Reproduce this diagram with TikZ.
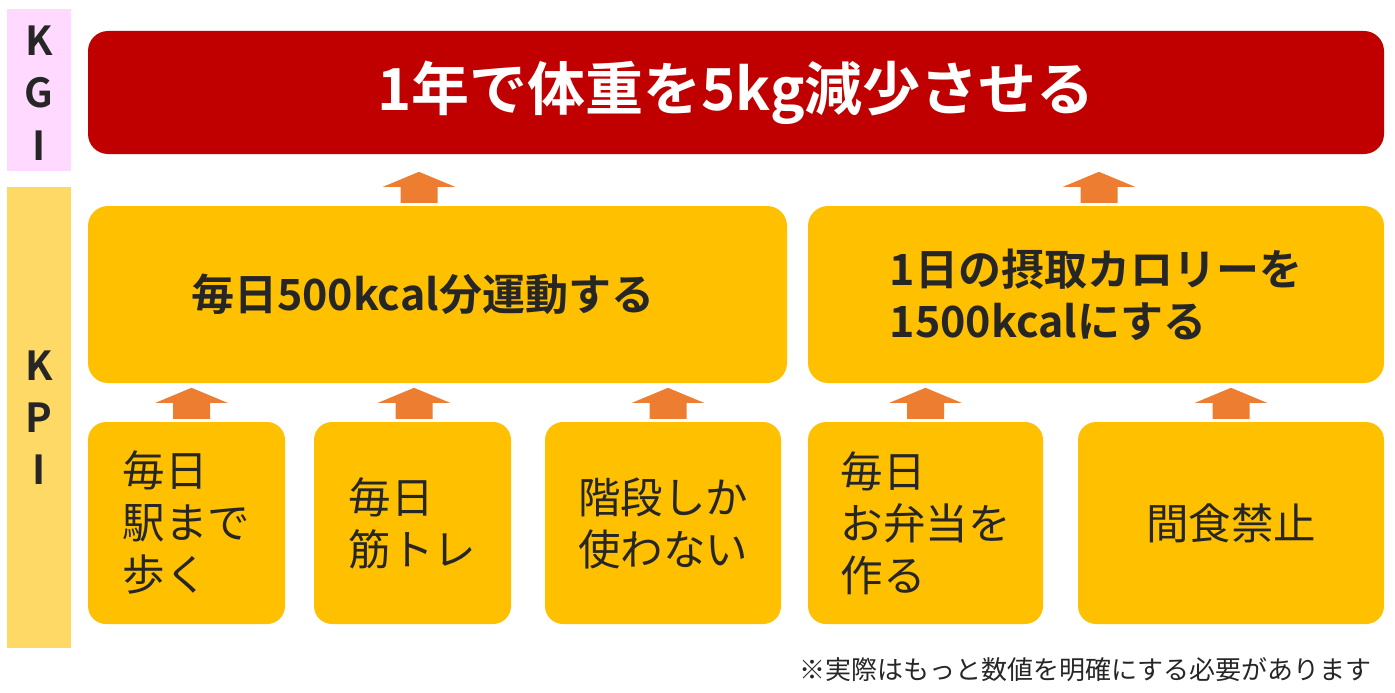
\documentclass[tikz,border=0pt]{standalone}
\usepackage{fontspec}
\setmainfont{Noto Sans CJK JP}[BoldFont={Noto Sans CJK JP Bold}]
\usetikzlibrary{calc}
\definecolor{kgired}{HTML}{C00000}
\definecolor{kpiyel}{HTML}{FFC000}
\definecolor{arrowc}{HTML}{ED7D31}
\definecolor{pinkband}{HTML}{FFD9FF}
\definecolor{yelband}{HTML}{FFD966}
\definecolor{txt}{HTML}{262626}
\begin{document}
\begin{tikzpicture}[x=1pt,y=-1pt,
  band/.style={inner sep=0pt, minimum width=64pt},
  lbl/.style={inner sep=0pt, text=txt, font=\bfseries\fontsize{40}{44}\selectfont},
  kgibox/.style={fill=kgired, rounded corners=20pt, inner sep=0pt, minimum width=1296pt, minimum height=123pt},
  kpibox/.style={fill=kpiyel, rounded corners=20pt, inner sep=0pt, minimum height=177pt},
  actbox/.style={fill=kpiyel, rounded corners=18pt, inner sep=0pt, minimum height=202pt, align=left, text=txt, font=\fontsize{42.5}{52}\selectfont},
  kpitext/.style={inner sep=0pt, align=left, text=txt, font=\bfseries\fontsize{43}{52}\selectfont},
  uparr/.pic={\fill[arrowc] (-18.5,0) -- (-18.5,-16) -- (-36,-16) -- (0,-31) -- (36,-16) -- (18.5,-16) -- (18.5,0) -- cycle;}
]
\useasboundingbox (0,0) rectangle (1395,693);
% side bands
\node[band, fill=pinkband, minimum height=162pt] (gband) at (39,90) {};
\node[band, fill=yelband, minimum height=461pt] (pband) at (39,417.5) {};
\node[lbl] (g1) at (39,41) {K};
\node[lbl] (g2) at (39,93) {G};
\node[lbl] (g3) at (39,146) {I};
\node[lbl] (p1) at (39,366) {K};
\node[lbl] (p2) at (39,418) {P};
\node[lbl] (p3) at (39,470) {I};
% KGI
\node[kgibox, text=white, font=\bfseries\fontsize{58}{62}\selectfont] (kgi) at (736,92.5) {1年で体重を5kg減少させる};
% KPI
\node[kpibox, minimum width=699pt] (k1) at (437.5,294.5) {};
\node[kpitext] (k1t) at ($(k1.center)+(-15,0)$) {毎日500kcal分運動する};
\node[kpibox, minimum width=576pt, kpitext] (k2) at (1096,294.5) {1日の摂取カロリーを\\1500kcalにする};
% actions
\node[actbox, minimum width=197pt] (b1) at (186.5,523) {毎日\\駅まで\\歩く};
\node[actbox, minimum width=197pt] (b2) at (412.5,523) {毎日\\筋トレ};
\node[actbox, minimum width=236pt] (b3) at (663,523) {階段しか\\使わない};
\node[actbox, minimum width=235pt] (b4) at (925.5,523) {毎日\\お弁当を\\作る};
\node[actbox, minimum width=306pt] (b5) at (1231,523) {間食禁止};
% arrows
\pic at ($(b1.north)+(5,-3)$) {uparr};
\pic at ($(b2.north)+(1.5,-3)$) {uparr};
\pic at ($(b3.north)+(5,-3)$) {uparr};
\pic at ($(b4.north)+(0,-3)$) {uparr};
\pic at ($(b5.north)+(0,-3)$) {uparr};
\pic at ($(k1.north)+(-18.5,-3)$) {uparr};
\pic at ($(k2.north)+(3,-3)$) {uparr};
% footnote
\node[anchor=east, inner sep=0pt, text=txt, font=\fontsize{26}{30}\selectfont] (note) at (1372,670) {※実際はもっと数値を明確にする必要があります};
\end{tikzpicture}
\end{document}
